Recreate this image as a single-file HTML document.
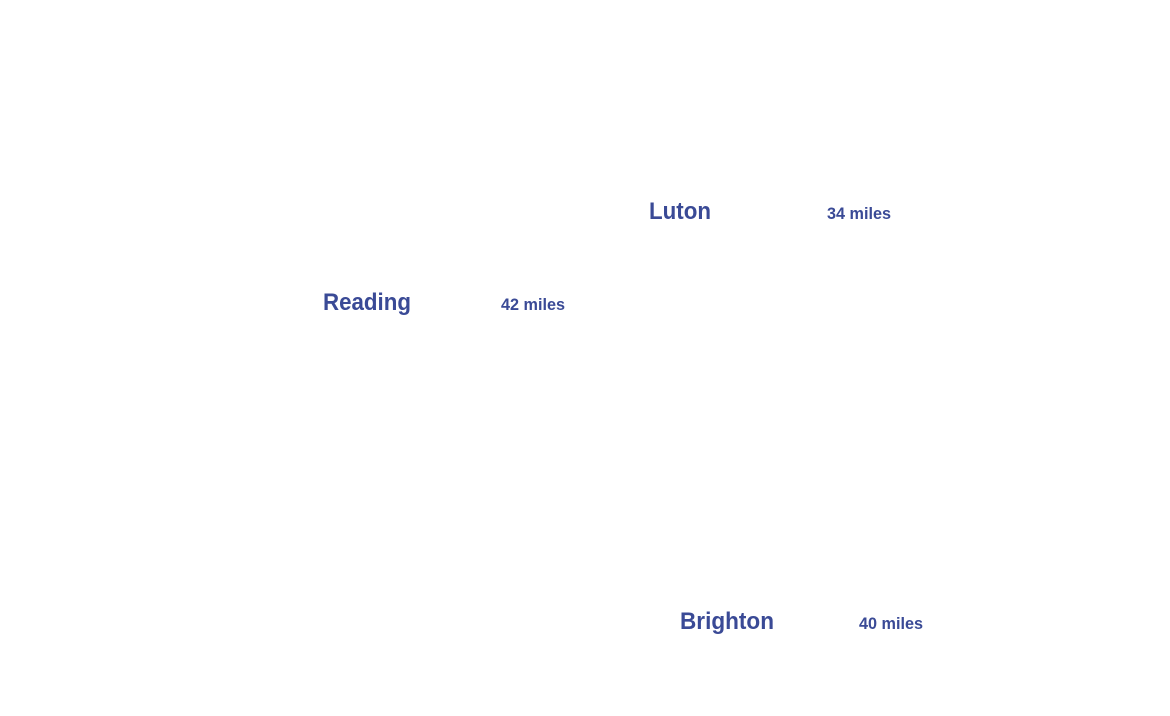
<!DOCTYPE html>
<html><head><style>html,body{margin:0;padding:0;background:#fff;}svg{display:block}</style></head>
<body>
<svg width="1170" height="716" xmlns="http://www.w3.org/2000/svg" font-family="Liberation Sans, sans-serif" font-weight="bold" fill="#3a4a96">
<text x="323" y="310" font-size="24" textLength="88" lengthAdjust="spacingAndGlyphs">Reading</text>
<text x="501" y="310" font-size="17" textLength="64" lengthAdjust="spacingAndGlyphs">42 miles</text>
<text x="649" y="219" font-size="24" textLength="62" lengthAdjust="spacingAndGlyphs">Luton</text>
<text x="827" y="219" font-size="17" textLength="64" lengthAdjust="spacingAndGlyphs">34 miles</text>
<text x="680" y="629" font-size="24" textLength="94" lengthAdjust="spacingAndGlyphs">Brighton</text>
<text x="859" y="629" font-size="17" textLength="64" lengthAdjust="spacingAndGlyphs">40 miles</text>
</svg>
</body></html>
